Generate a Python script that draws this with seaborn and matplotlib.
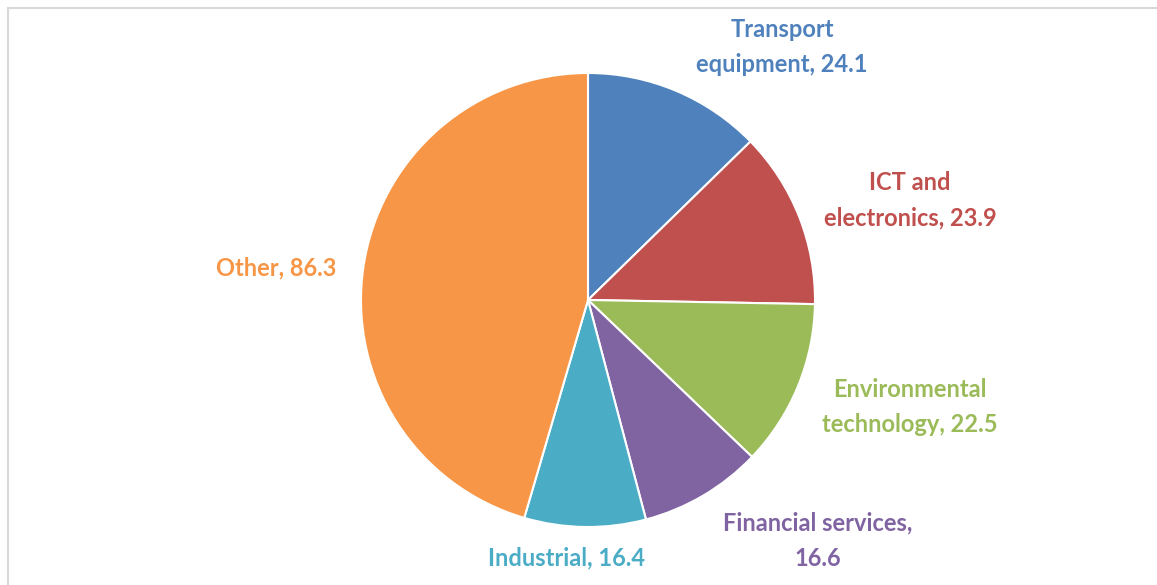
import matplotlib
matplotlib.use("Agg")
import matplotlib.pyplot as plt
import seaborn as sns
from matplotlib.patches import Rectangle

sns.set_theme(style="white")
plt.rcParams["font.family"] = ["Lato", "DejaVu Sans"]

# Sector sizes
sectors = ["Transport\nequipment", "ICT and\nelectronics", "Environmental\ntechnology",
           "Financial services,\n", "Industrial", "Other"]
values = [24.1, 23.9, 22.5, 16.6, 16.4, 86.3]
colors = ["#4F81BD", "#C0504D", "#9BBB59", "#8064A2", "#4BACC6", "#F79646"]

W, H, DPI = 1157, 585, 100
fig = plt.figure(figsize=(W / DPI, H / DPI), dpi=DPI)
ax = fig.add_axes([0, 0, 1, 1])

ax.pie(values, colors=colors, startangle=90, counterclock=False, radius=1.0,
       wedgeprops=dict(edgecolor="white", linewidth=1.5))

# pie centre / radius in pixels
cx, cy, r = 588, 300, 227
ax.set_aspect("auto")
ax.set_xlim(-cx / r, (W - cx) / r)
ax.set_ylim(-(H - cy) / r, cy / r)
ax.axis("off")

# label anchor points (data units), one per sector
label_pos = [(0.855, 1.115), (1.419, 0.441), (1.419, -0.471),
             (1.013, -1.062), (-0.093, -1.137), (-1.374, 0.141)]
for name, v, c, (lx, ly) in zip(sectors, values, colors, label_pos):
    if name.endswith("\n"):
        txt = f"{name}{v}"
    else:
        txt = f"{name}, {v}"
    ax.text(lx, ly, txt, color=c, fontsize=17, fontweight="bold",
            ha="center", va="center", linespacing=1.65)

# light frame around the chart area
fig.patches.append(Rectangle((8 / W, -0.1), 1.2, (H - 8) / H + 0.1,
                             transform=fig.transFigure, fill=False,
                             edgecolor="#D9D9D9", linewidth=1.5))

fig.savefig("out.png", dpi=DPI, facecolor="white")
